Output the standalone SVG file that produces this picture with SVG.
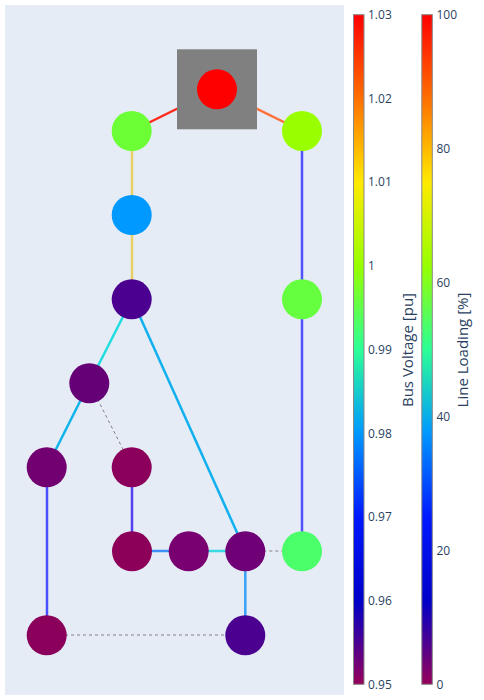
<svg xmlns="http://www.w3.org/2000/svg" width="484" height="700" viewBox="0 0 484 700">
<style>
.edge{fill:none;stroke-width:2.5;stroke-linecap:butt}
.dash{fill:none;stroke:#808080;stroke-width:1;stroke-dasharray:3,3}
.tick{font-family:"Open Sans","DejaVu Sans",sans-serif;font-size:12px;fill:#2a3f5f}
.ttl{font-family:"Open Sans","DejaVu Sans",sans-serif;font-size:15px;fill:#2a3f5f;text-anchor:middle}
.cb{stroke:#888888;stroke-width:1;fill:url(#rainbow)}
</style>
<defs>
<linearGradient id="rainbow" x1="0" y1="1" x2="0" y2="0">
<stop offset="0" stop-color="rgb(150,0,90)"/>
<stop offset="0.125" stop-color="rgb(0,0,200)"/>
<stop offset="0.25" stop-color="rgb(0,25,255)"/>
<stop offset="0.375" stop-color="rgb(0,152,255)"/>
<stop offset="0.5" stop-color="rgb(44,255,150)"/>
<stop offset="0.625" stop-color="rgb(151,255,0)"/>
<stop offset="0.75" stop-color="rgb(255,234,0)"/>
<stop offset="0.875" stop-color="rgb(255,111,0)"/>
<stop offset="1" stop-color="rgb(255,0,0)"/>
</linearGradient>
</defs>
<rect x="0" y="0" width="484" height="700" fill="#ffffff"/>
<rect x="5" y="5" width="339" height="690" fill="#e5ecf6"/>
<g id="connectors">
<line class="edge" x1="132" y1="131" x2="217" y2="89" stroke="#ff2a1a"/>
<line class="edge" x1="217" y1="89" x2="302" y2="131" stroke="#ff703c"/>
<line class="edge" x1="132" y1="131" x2="132" y2="215" stroke="#e8d066" stroke-width="2"/>
<line class="edge" x1="132" y1="215" x2="132" y2="299" stroke="#e8d066" stroke-width="2"/>
<line class="edge" x1="302" y1="131" x2="302" y2="299" stroke="#5050ff" stroke-width="2"/>
<line class="edge" x1="302" y1="299" x2="302" y2="551" stroke="#5050ff" stroke-width="2"/>
<line class="edge" x1="132" y1="299" x2="89.3" y2="383" stroke="#20dede"/>
<line class="edge" x1="132" y1="299" x2="245.3" y2="551" stroke="#10b0ee"/>
<line class="edge" x1="89.3" y1="383" x2="47" y2="467" stroke="#10b4ea"/>
<line class="dash" x1="89.3" y1="383" x2="132" y2="467"/>
<line class="edge" x1="47" y1="467" x2="47" y2="635" stroke="#4a50ff"/>
<line class="edge" x1="132" y1="467" x2="132" y2="551" stroke="#5540f0"/>
<line class="edge" x1="132" y1="551" x2="188.7" y2="551" stroke="#3d90f5" stroke-width="3"/>
<line class="edge" x1="188.7" y1="551" x2="245.3" y2="551" stroke="#3ad8e0" stroke-width="3"/>
<line class="dash" x1="245.3" y1="551" x2="302" y2="551"/>
<line class="edge" x1="245.3" y1="551" x2="245.3" y2="635" stroke="#3aa0f5"/>
<line class="dash" x1="47" y1="635" x2="245.3" y2="635"/>
</g>
<g id="ext-grid">
<rect x="177" y="49.3" width="80" height="80" fill="#808080"/>
</g>
<g id="bus0"><circle cx="217" cy="89.3" r="20" fill="#ff0000"/></g>
<g id="bus1"><circle cx="131.7" cy="131" r="20" fill="#6cff35"/></g>
<g id="bus2"><circle cx="302" cy="131" r="20" fill="#99ff00"/></g>
<g id="bus3"><circle cx="131.7" cy="215" r="20" fill="#0099ff"/></g>
<g id="bus4"><circle cx="131.7" cy="299.3" r="20" fill="#4b0090"/></g>
<g id="bus5"><circle cx="302" cy="299.3" r="20" fill="#66ff40"/></g>
<g id="bus6"><circle cx="89.3" cy="383.3" r="20" fill="#660077"/></g>
<g id="bus7"><circle cx="46.7" cy="467.3" r="20" fill="#730070"/></g>
<g id="bus8"><circle cx="131.7" cy="467.3" r="20" fill="#8b005a"/></g>
<g id="bus9"><circle cx="132" cy="551.3" r="20" fill="#8c005a"/></g>
<g id="bus10"><circle cx="188.7" cy="551.3" r="20" fill="#790070"/></g>
<g id="bus11"><circle cx="245.3" cy="551.3" r="20" fill="#700075"/></g>
<g id="bus12"><circle cx="302" cy="551.3" r="20" fill="#4aff6a"/></g>
<g id="bus13"><circle cx="46.7" cy="635.3" r="20" fill="#8b005b"/></g>
<g id="bus14"><circle cx="245.3" cy="635.3" r="20" fill="#4b0090"/></g>
<g id="colorbar-voltage">
<rect class="cb" x="353.5" y="14.7" width="10.5" height="669.6"/>
<text class="tick" x="368" y="19">1.03</text>
<text class="tick" x="368" y="102.7">1.02</text>
<text class="tick" x="368" y="186.4">1.01</text>
<text class="tick" x="368" y="270.1">1</text>
<text class="tick" x="368" y="353.8">0.99</text>
<text class="tick" x="368" y="437.5">0.98</text>
<text class="tick" x="368" y="521.2">0.97</text>
<text class="tick" x="368" y="604.9">0.96</text>
<text class="tick" x="368" y="688.6">0.95</text>
<text class="ttl" transform="translate(413,350) rotate(-90)">Bus Voltage [pu]</text>
</g>
<g id="colorbar-loading">
<rect class="cb" x="421.8" y="14.7" width="10.5" height="669.6"/>
<text class="tick" x="436.5" y="19">100</text>
<text class="tick" x="436.5" y="152.9">80</text>
<text class="tick" x="436.5" y="286.8">60</text>
<text class="tick" x="436.5" y="420.7">40</text>
<text class="tick" x="436.5" y="554.6">20</text>
<text class="tick" x="436.5" y="688.6">0</text>
<text class="ttl" transform="translate(468,350) rotate(-90)">Line Loading [%]</text>
</g>
</svg>
